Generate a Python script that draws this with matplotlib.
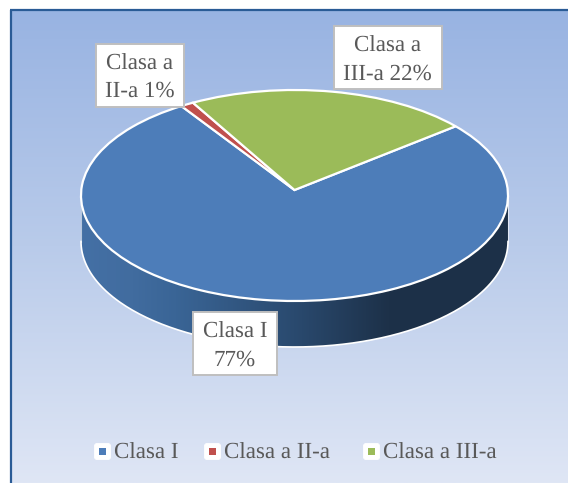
import numpy as np
import matplotlib
matplotlib.use('Agg')
import matplotlib.pyplot as plt
from matplotlib.colors import LinearSegmentedColormap
from matplotlib.patches import Rectangle, FancyBboxPatch, PathPatch
from matplotlib.path import Path

plt.rcParams['font.family'] = ['Liberation Serif', 'DejaVu Serif']
plt.rcParams['text.hinting'] = 'no_hinting'
plt.rcParams['text.hinting_factor'] = 1

# -------------------------------
# Data
# -------------------------------
categories = ['Clasa I', 'Clasa a II-a', 'Clasa a III-a']
values = [77.5, 1, 21.5]
colors = ['#4d7db9', '#c0504d', '#9bbb59']
label_lines = [['Clasa I', '77%'], ['Clasa a', 'II-a 1%'], ['Clasa a', 'III-a 22%']]

W, H = 568, 483
text_col = '#595959'
font_size = 16.9

fig = plt.figure(figsize=(W / 100, H / 100), dpi=100, facecolor='white')


def px_axes(zorder):
    a = fig.add_axes([0, 0, 1, 1], zorder=zorder)
    a.set_xlim(0, W)
    a.set_ylim(H, 0)
    a.axis('off')
    a.patch.set_alpha(0)
    return a


# -------------------------------
# Background panel
# -------------------------------
bg = px_axes(0)
bg_cmap = LinearSegmentedColormap.from_list('bg', ['#98b3e2', '#b9cbea', '#dfe6f5'])
bg.imshow(np.linspace(0, 1, 256).reshape(-1, 1), cmap=bg_cmap, aspect='auto',
          extent=[10, W, H, 9], zorder=1)
bg.set_xlim(0, W)
bg.set_ylim(H, 0)
bg.plot([10.5, 10.5], [H, 9.5], color='#2a5b96', lw=1.6, zorder=2, solid_capstyle='butt')
bg.plot([10, W], [9.5, 9.5], color='#2a5b96', lw=1.6, zorder=2, solid_capstyle='butt')

# -------------------------------
# Pie side wall (drawn below the top)
# -------------------------------
cx, cy, rx, ry = 294.5, 195.5, 213.5, 105.5
depth = 46
t = np.linspace(0, np.pi, 200)
ex = cx + rx * np.cos(t)
ey = cy + ry * np.sin(t)
side_xy = np.vstack([np.column_stack([ex, ey]),
                     np.column_stack([ex[::-1], ey[::-1] + depth]),
                     [[ex[0], ey[0]]]])
side = PathPatch(Path(side_xy), fc='none', ec='none', transform=bg.transData)
bg.add_patch(side)
side_cmap = LinearSegmentedColormap.from_list(
    'side', [(0, '#4470a5'), (0.12, '#416c9f'), (0.22, '#3a6596'), (0.5, '#2a4a6f'),
             (0.72, '#1d3149'), (1, '#1c3048')])
im = bg.imshow(np.linspace(0, 1, 256).reshape(1, -1), cmap=side_cmap, aspect='auto',
               extent=[cx - rx, cx + rx, cy + ry + depth, cy], zorder=3)
im.set_clip_path(side)
bg.set_xlim(0, W)
bg.set_ylim(H, 0)
bg.plot(ex, ey + depth, color='white', lw=1.2, zorder=4)
bg.plot([cx - rx, cx - rx], [cy, cy + depth], color='white', lw=0.8, alpha=0.6, zorder=4)
bg.plot([cx + rx, cx + rx], [cy, cy + depth], color='white', lw=0.8, alpha=0.6, zorder=4)

# -------------------------------
# Pie top
# -------------------------------
ax = fig.add_axes([(cx - rx) / W, 1 - (cy + ry) / H, 2 * rx / W, 2 * ry / H], zorder=1)
wedges, _ = ax.pie(values, colors=colors, startangle=41, counterclock=False, radius=1,
                   wedgeprops={'edgecolor': 'white', 'linewidth': 1.6, 'clip_on': False})
ax.set_aspect('auto')
ax.set_xlim(-1, 1)
ax.set_ylim(-1, 1)

# the apex sits a bit above the ellipse centre in the tilted view
apex_y = 5.5 / ry
for w in wedges:
    p = w.get_path()
    v = np.array(p.vertices)
    v[np.all(np.abs(v) < 1e-6, axis=1)] = (0, apex_y)
    w._path = Path(v, p.codes)

# -------------------------------
# Data labels and legend
# -------------------------------
top = px_axes(2)
boxes = [(193, 312, 84, 63), (96, 43.5, 88, 63), (333.5, 26, 108.5, 62.5)]
baselines = [(338, 366), (70, 97), (52, 80)]
for lines, (bx, by, bw, bh), ys in zip(label_lines, boxes, baselines):
    top.add_patch(Rectangle((bx, by), bw, bh, fc='white', ec='#bfbfbf', lw=1.4))
    for line, y in zip(lines, ys):
        top.text(bx + bw / 2, y, line, ha='center', va='baseline', fontsize=font_size,
                 color=text_col)

legend_x = [94, 204, 363]
for name, col, lx in zip(categories, colors, legend_x):
    top.add_patch(FancyBboxPatch((lx + 0.5, 443.5), 16, 16, boxstyle='round,pad=0,rounding_size=2.5',
                                 fc='white', ec='white', lw=0.6))
    top.add_patch(Rectangle((lx + 5, 448), 7, 7, fc=col, ec='none'))
    top.text(lx + 20, 459, name, ha='left', va='baseline', fontsize=font_size, color=text_col)

fig.savefig('out.png', dpi=100, facecolor='white')
